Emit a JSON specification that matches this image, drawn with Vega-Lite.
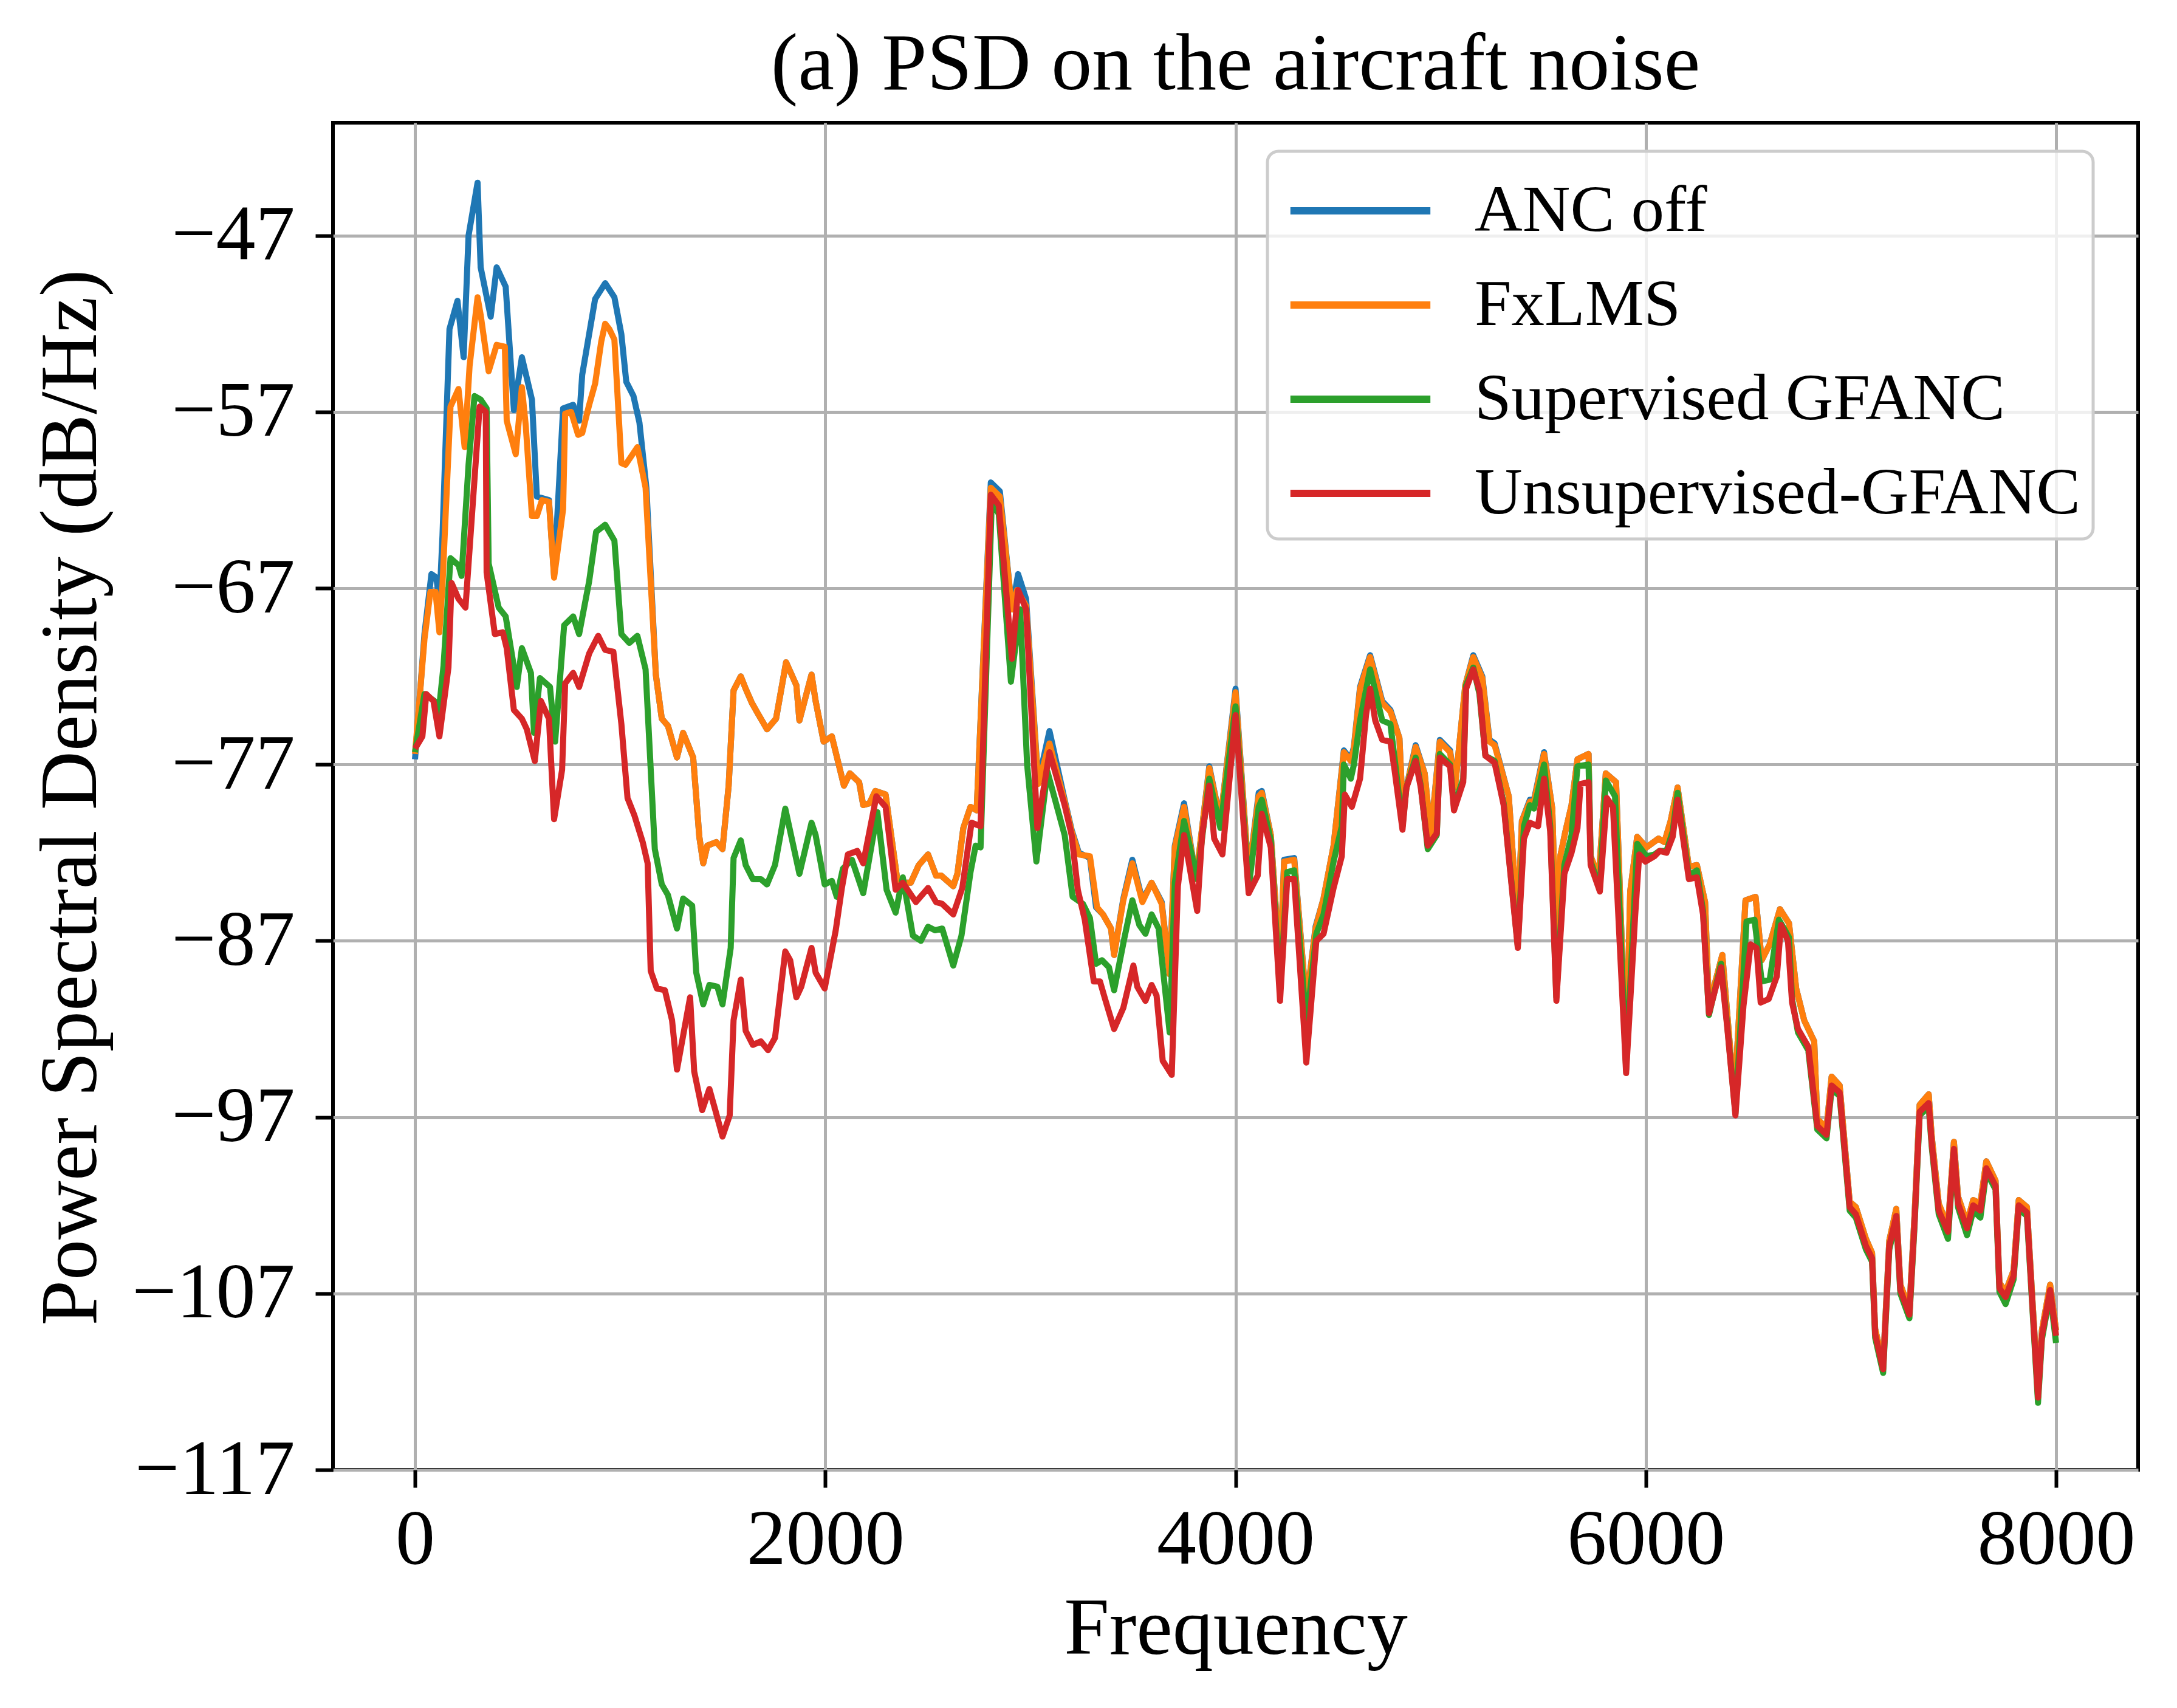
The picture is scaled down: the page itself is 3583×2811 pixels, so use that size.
{
  "$schema": "https://vega.github.io/schema/vega-lite/v6.json",
  "autosize": {"type": "none"},
  "padding": {"left": 548, "top": 202, "right": 64, "bottom": 392},
  "width": 2971,
  "height": 2217,
  "background": "white",
  "title": {
    "text": "(a) PSD on the aircraft noise",
    "font": "Liberation Serif",
    "fontSize": 134,
    "fontWeight": "normal",
    "color": "black",
    "anchor": "middle",
    "frame": "group",
    "baseline": "alphabetic",
    "offset": -79
  },
  "datasets": {
    "blue": [[0,-76.7],[46,-69.6],[80,-66.2],[104,-66.4],[119,-67.8],[134,-64.0],[168,-52.3],[207,-50.7],[237,-53.9],[261,-47.0],[305,-44.0],[320,-48.8],[369,-51.6],[398,-48.8],[442,-49.9],[482,-56.9],[521,-53.9],[570,-56.3],[594,-61.8],[653,-62.0],[678,-66.3],[722,-56.8],[771,-56.6],[800,-57.5],[815,-54.9],[878,-50.6],[927,-49.7],[972,-50.5],[1006,-52.6],[1030,-55.3],[1065,-56.1],[1094,-57.6],[1128,-61.3],[1174,-71.9],[1203,-74.4],[1233,-74.8],[1277,-76.6],[1307,-75.2],[1356,-76.6],[1386,-81.1],[1405,-82.6],[1425,-81.6],[1469,-81.4],[1499,-81.8],[1529,-78.2],[1553,-72.8],[1588,-72.0],[1612,-72.7],[1642,-73.5],[1671,-74.1],[1716,-75.0],[1760,-74.4],[1809,-71.2],[1859,-72.5],[1874,-74.5],[1933,-71.9],[1953,-73.4],[1992,-75.7],[2032,-75.4],[2091,-78.2],[2120,-77.5],[2165,-78.0],[2185,-79.3],[2215,-79.2],[2244,-78.5],[2294,-78.7],[2353,-83.7],[2417,-83.7],[2456,-82.7],[2501,-82.1],[2540,-83.3],[2565,-83.3],[2624,-83.9],[2644,-83.2],[2673,-80.6],[2708,-79.4],[2738,-79.6],[2807,-61.0],[2851,-61.5],[2910,-68.2],[2940,-66.2],[2979,-67.6],[3038,-78.0],[3093,-75.1],[3167,-79.0],[3201,-80.7],[3236,-82.0],[3290,-82.3],[3320,-85.1],[3354,-85.5],[3393,-86.3],[3408,-87.8],[3453,-84.6],[3497,-82.4],[3546,-84.7],[3591,-83.7],[3640,-84.8],[3679,-88.9],[3704,-81.6],[3749,-79.2],[3808,-83.5],[3833,-81.0],[3872,-77.1],[3926,-80.2],[4000,-72.7],[4064,-83.3],[4113,-78.6],[4128,-78.5],[4172,-81.0],[4217,-88.6],[4237,-82.4],[4286,-82.3],[4345,-90.6],[4390,-86.2],[4429,-84.6],[4478,-81.6],[4528,-76.2],[4562,-76.7],[4577,-76.0],[4607,-72.6],[4656,-70.8],[4715,-73.4],[4755,-73.9],[4799,-75.5],[4814,-79.3],[4878,-75.9],[4922,-77.5],[4952,-81.0],[4996,-75.6],[5046,-76.2],[5070,-78.3],[5120,-72.5],[5159,-70.8],[5203,-72.0],[5238,-75.6],[5263,-75.8],[5332,-78.8],[5376,-86.2],[5396,-80.2],[5435,-79.0],[5455,-79.0],[5504,-76.3],[5544,-79.5],[5568,-89.0],[5583,-82.2],[5608,-80.8],[5638,-79.3],[5667,-76.7],[5721,-76.4],[5731,-82.2],[5771,-83.4],[5805,-77.5],[5855,-78.0],[5904,-94.1],[5924,-84.2],[5958,-81.1],[6003,-81.7],[6062,-81.2],[6091,-81.4],[6121,-80.2],[6155,-78.3],[6210,-82.8],[6249,-82.7],[6289,-84.8],[6308,-90.7],[6373,-87.8],[6432,-96.0],[6486,-84.7],[6535,-84.5],[6565,-88.1],[6604,-87.2],[6654,-85.2],[6698,-86.0],[6733,-89.7],[6772,-91.5],[6821,-92.7],[6836,-97.1],[6881,-97.6],[6906,-94.7],[6945,-95.2],[6994,-101.8],[7024,-102.1],[7073,-103.9],[7103,-104.7],[7118,-109.0],[7157,-111.0],[7187,-104.0],[7221,-102.2],[7241,-106.5],[7285,-107.9],[7310,-102.6],[7335,-96.3],[7379,-95.7],[7394,-98.1],[7428,-101.9],[7473,-103.2],[7502,-98.4],[7522,-101.5],[7566,-103.0],[7596,-101.7],[7631,-101.9],[7660,-99.5],[7705,-100.6],[7724,-106.4],[7754,-106.9],[7793,-105.7],[7818,-101.7],[7858,-102.1],[7887,-107.8],[7912,-112.6],[7931,-109.1],[7971,-106.5],[8000,-109.1]],
    "orange": [[0,-76.4],[46,-69.9],[75,-67.2],[100,-67.2],[119,-69.5],[134,-66.8],[173,-56.7],[212,-55.7],[242,-59.0],[266,-54.4],[305,-50.5],[320,-51.5],[359,-54.7],[398,-53.2],[438,-53.3],[447,-57.5],[491,-59.4],[521,-55.6],[540,-57.8],[570,-62.9],[594,-62.9],[619,-62.0],[653,-62.1],[678,-66.4],[722,-62.5],[732,-57.1],[761,-57.0],[795,-58.3],[815,-58.2],[849,-56.6],[878,-55.4],[908,-53.0],[927,-52.0],[947,-52.3],[972,-52.9],[1006,-59.9],[1026,-60.0],[1084,-59.0],[1124,-61.3],[1174,-71.9],[1203,-74.4],[1233,-74.8],[1277,-76.6],[1307,-75.2],[1356,-76.6],[1386,-81.1],[1405,-82.6],[1425,-81.6],[1469,-81.4],[1499,-81.8],[1529,-78.2],[1553,-72.8],[1588,-72.0],[1612,-72.7],[1642,-73.5],[1671,-74.1],[1716,-75.0],[1760,-74.4],[1809,-71.2],[1859,-72.5],[1874,-74.5],[1933,-71.9],[1953,-73.4],[1992,-75.7],[2032,-75.4],[2091,-78.2],[2120,-77.5],[2165,-78.0],[2185,-79.3],[2215,-79.2],[2244,-78.5],[2294,-78.7],[2353,-83.7],[2417,-83.7],[2456,-82.7],[2501,-82.1],[2540,-83.3],[2565,-83.3],[2624,-83.9],[2644,-83.2],[2673,-80.6],[2708,-79.4],[2738,-79.6],[2807,-61.3],[2851,-61.8],[2910,-68.2],[2935,-67.1],[2979,-68.0],[3038,-78.1],[3093,-75.8],[3167,-79.1],[3201,-80.8],[3236,-82.1],[3290,-82.2],[3325,-85.1],[3354,-85.5],[3393,-86.3],[3408,-87.8],[3453,-84.7],[3497,-82.6],[3546,-84.8],[3591,-83.7],[3640,-84.9],[3679,-88.9],[3704,-81.7],[3749,-79.4],[3808,-83.5],[3833,-81.0],[3872,-77.2],[3926,-80.2],[4000,-72.9],[4064,-83.3],[4113,-78.8],[4128,-78.6],[4172,-81.0],[4217,-88.6],[4237,-82.5],[4286,-82.4],[4345,-90.6],[4390,-86.3],[4429,-84.6],[4478,-81.6],[4528,-76.3],[4562,-76.8],[4577,-76.1],[4607,-72.7],[4656,-70.9],[4715,-73.5],[4755,-74.0],[4799,-75.5],[4814,-79.3],[4878,-76.0],[4922,-77.5],[4952,-81.0],[4996,-75.7],[5046,-76.3],[5070,-78.3],[5120,-72.5],[5159,-70.9],[5203,-72.1],[5238,-75.7],[5263,-75.9],[5332,-78.8],[5376,-86.2],[5396,-80.2],[5435,-79.1],[5455,-79.1],[5504,-76.4],[5544,-79.5],[5568,-89.0],[5583,-82.2],[5608,-80.8],[5638,-79.3],[5667,-76.7],[5721,-76.4],[5731,-82.2],[5771,-83.4],[5805,-77.5],[5855,-78.0],[5904,-94.1],[5924,-84.2],[5958,-81.1],[6003,-81.7],[6062,-81.2],[6091,-81.4],[6121,-80.2],[6155,-78.3],[6210,-82.8],[6249,-82.7],[6289,-84.8],[6308,-90.7],[6373,-87.8],[6432,-96.0],[6486,-84.7],[6535,-84.5],[6565,-88.1],[6604,-87.2],[6654,-85.2],[6698,-86.0],[6733,-89.7],[6772,-91.5],[6821,-92.7],[6836,-97.1],[6881,-97.6],[6906,-94.7],[6945,-95.2],[6994,-101.8],[7024,-102.1],[7073,-103.9],[7103,-104.7],[7118,-109.0],[7157,-111.0],[7187,-104.0],[7221,-102.2],[7241,-106.5],[7285,-107.9],[7310,-102.6],[7335,-96.3],[7379,-95.7],[7394,-98.1],[7428,-101.9],[7473,-103.2],[7502,-98.4],[7522,-101.5],[7566,-103.0],[7596,-101.7],[7631,-101.9],[7660,-99.5],[7705,-100.6],[7724,-106.4],[7754,-106.9],[7793,-105.7],[7818,-101.7],[7858,-102.1],[7887,-107.8],[7912,-112.6],[7931,-109.1],[7971,-106.5],[8000,-109.1]],
    "green": [[0,-76.3],[46,-73.0],[95,-73.4],[114,-74.2],[139,-71.4],[173,-65.3],[212,-65.7],[227,-66.3],[261,-60.0],[290,-56.1],[320,-56.3],[349,-56.8],[359,-65.6],[408,-68.1],[442,-68.6],[477,-71.1],[496,-72.6],[521,-70.4],[565,-71.8],[580,-75.2],[609,-72.1],[658,-72.6],[683,-75.7],[727,-69.1],[771,-68.6],[800,-69.6],[849,-66.6],[883,-63.8],[927,-63.4],[972,-64.3],[1006,-69.6],[1045,-70.1],[1084,-69.7],[1124,-71.6],[1169,-81.8],[1203,-83.8],[1233,-84.4],[1277,-86.3],[1307,-84.6],[1351,-85.0],[1371,-88.8],[1405,-90.6],[1435,-89.5],[1474,-89.6],[1499,-90.6],[1539,-87.4],[1553,-82.3],[1588,-81.3],[1612,-82.7],[1647,-83.5],[1686,-83.5],[1716,-83.8],[1755,-82.7],[1805,-79.5],[1874,-83.2],[1933,-80.3],[1953,-81.0],[1997,-83.8],[2032,-83.6],[2056,-84.5],[2086,-82.9],[2130,-82.4],[2185,-84.3],[2254,-79.7],[2299,-84.1],[2343,-85.4],[2378,-83.4],[2427,-86.7],[2466,-87.0],[2501,-86.2],[2535,-86.4],[2570,-86.3],[2624,-88.4],[2664,-86.7],[2708,-83.1],[2733,-81.6],[2757,-81.7],[2812,-62.0],[2846,-62.8],[2905,-72.3],[2950,-68.2],[2984,-77.0],[3029,-82.5],[3083,-77.4],[3167,-81.0],[3206,-84.5],[3256,-84.9],[3290,-85.7],[3320,-88.3],[3349,-88.1],[3383,-88.5],[3408,-89.8],[3457,-86.9],[3497,-84.7],[3531,-86.1],[3561,-86.6],[3591,-85.5],[3625,-86.3],[3679,-92.2],[3704,-83.7],[3749,-80.2],[3813,-83.5],[3872,-77.8],[3926,-80.6],[4000,-73.7],[4064,-84.0],[4113,-79.4],[4128,-79.0],[4172,-81.3],[4217,-89.9],[4252,-83.1],[4286,-83.0],[4345,-91.8],[4394,-86.6],[4429,-85.5],[4478,-82.5],[4518,-80.5],[4528,-77.0],[4562,-77.8],[4577,-77.0],[4607,-74.5],[4656,-71.6],[4715,-74.5],[4755,-74.7],[4774,-76.5],[4814,-80.5],[4833,-78.3],[4878,-76.6],[4903,-78.2],[4937,-81.8],[4981,-81.0],[4996,-76.4],[5046,-77.0],[5065,-79.4],[5110,-77.8],[5124,-72.5],[5159,-71.5],[5189,-73.0],[5218,-76.5],[5263,-76.8],[5307,-79.2],[5376,-87.3],[5406,-80.5],[5435,-79.3],[5455,-79.5],[5504,-77.0],[5534,-80.5],[5564,-90.2],[5603,-82.7],[5638,-81.0],[5667,-77.1],[5721,-77.0],[5731,-82.5],[5776,-84.0],[5805,-77.9],[5850,-78.8],[5904,-94.3],[5958,-81.5],[6003,-82.2],[6042,-82.1],[6067,-81.9],[6101,-81.9],[6131,-80.8],[6155,-78.6],[6210,-83.3],[6249,-83.0],[6279,-85.3],[6308,-91.2],[6367,-88.3],[6397,-91.8],[6437,-96.8],[6491,-85.9],[6530,-85.8],[6565,-89.3],[6604,-89.2],[6649,-85.8],[6698,-86.8],[6713,-90.3],[6742,-92.2],[6792,-93.2],[6836,-97.7],[6881,-98.2],[6906,-95.4],[6945,-95.8],[6994,-102.3],[7024,-102.7],[7073,-104.5],[7103,-105.2],[7118,-109.5],[7157,-111.5],[7187,-104.5],[7221,-102.8],[7241,-107.0],[7285,-108.4],[7310,-103.2],[7335,-96.9],[7379,-96.4],[7394,-98.7],[7428,-102.5],[7473,-103.9],[7502,-99.0],[7522,-102.1],[7566,-103.7],[7596,-102.3],[7631,-102.7],[7660,-100.1],[7705,-101.1],[7724,-106.9],[7754,-107.6],[7793,-106.2],[7818,-102.2],[7858,-102.6],[7887,-108.3],[7912,-113.2],[7931,-109.6],[7971,-107.0],[8000,-109.8]],
    "red": [[0,-76.1],[36,-75.4],[55,-73.0],[90,-73.4],[119,-75.4],[163,-71.5],[178,-66.7],[212,-67.6],[246,-68.1],[281,-62.3],[315,-56.7],[345,-57.0],[349,-66.1],[389,-69.6],[428,-69.5],[447,-70.4],[482,-73.9],[521,-74.4],[545,-75.0],[584,-76.8],[614,-73.4],[653,-74.4],[678,-80.1],[717,-77.3],[732,-72.4],[771,-71.8],[800,-72.6],[849,-70.7],[893,-69.7],[927,-70.5],[967,-70.6],[1006,-74.7],[1036,-78.9],[1070,-79.9],[1110,-81.4],[1134,-82.6],[1149,-88.7],[1179,-89.7],[1218,-89.8],[1253,-91.5],[1277,-94.3],[1341,-90.2],[1361,-94.4],[1400,-96.6],[1435,-95.4],[1464,-96.6],[1499,-98.1],[1534,-96.9],[1553,-91.5],[1588,-89.2],[1612,-92.1],[1647,-92.9],[1686,-92.7],[1721,-93.2],[1755,-92.5],[1805,-87.6],[1829,-88.1],[1859,-90.2],[1883,-89.6],[1933,-87.4],[1953,-88.8],[1997,-89.7],[2051,-86.4],[2081,-84.0],[2110,-82.1],[2156,-81.9],[2185,-82.6],[2249,-78.8],[2294,-79.4],[2343,-84.1],[2378,-83.7],[2442,-84.8],[2501,-84.0],[2540,-84.8],[2570,-84.9],[2624,-85.5],[2668,-84.0],[2713,-80.3],[2757,-80.5],[2807,-61.7],[2846,-62.3],[2910,-71.0],[2940,-67.1],[2979,-68.2],[3034,-80.6],[3093,-76.3],[3167,-79.3],[3201,-81.0],[3231,-84.1],[3265,-85.8],[3309,-89.3],[3339,-89.3],[3364,-90.3],[3408,-92.0],[3453,-90.8],[3502,-88.4],[3521,-89.6],[3561,-90.4],[3591,-89.5],[3615,-90.1],[3645,-93.8],[3689,-94.6],[3719,-83.9],[3749,-81.0],[3813,-85.3],[3837,-81.0],[3872,-78.2],[3896,-81.2],[3936,-82.1],[4000,-74.2],[4064,-84.3],[4108,-83.3],[4128,-79.8],[4172,-81.7],[4217,-90.4],[4252,-83.5],[4286,-83.5],[4345,-93.9],[4394,-87.0],[4429,-86.6],[4478,-84.0],[4518,-82.2],[4533,-78.7],[4567,-79.4],[4607,-77.8],[4636,-74.2],[4656,-72.7],[4681,-74.5],[4715,-75.6],[4755,-75.7],[4774,-77.2],[4814,-80.7],[4833,-78.3],[4878,-76.8],[4903,-78.3],[4937,-81.6],[4981,-80.9],[4996,-76.6],[5046,-77.1],[5065,-79.6],[5110,-78.0],[5124,-72.7],[5159,-71.6],[5189,-72.8],[5218,-76.5],[5263,-76.9],[5307,-79.3],[5376,-87.4],[5406,-81.2],[5435,-80.3],[5475,-80.5],[5504,-77.8],[5534,-80.8],[5564,-90.4],[5603,-83.2],[5638,-82.0],[5667,-80.6],[5682,-78.1],[5721,-78.0],[5731,-82.7],[5776,-84.2],[5810,-78.9],[5840,-79.4],[5904,-94.5],[5948,-85.6],[5968,-82.1],[5998,-82.5],[6042,-82.2],[6067,-81.9],[6101,-82.0],[6131,-81.1],[6155,-79.0],[6210,-83.5],[6249,-83.4],[6279,-85.5],[6308,-91.1],[6367,-88.5],[6397,-91.9],[6437,-96.9],[6476,-90.7],[6511,-87.2],[6540,-87.4],[6560,-90.5],[6599,-90.3],[6639,-89.0],[6659,-86.1],[6693,-87.0],[6713,-90.5],[6742,-92.0],[6792,-93.0],[6836,-97.5],[6881,-98.0],[6906,-95.2],[6945,-95.6],[6994,-102.1],[7024,-102.5],[7073,-104.3],[7103,-105.0],[7118,-109.3],[7157,-111.3],[7187,-104.3],[7221,-102.6],[7241,-106.8],[7285,-108.2],[7310,-103.0],[7335,-96.7],[7379,-96.2],[7394,-98.5],[7428,-102.3],[7473,-103.5],[7502,-98.8],[7522,-101.9],[7566,-103.3],[7596,-102.0],[7631,-102.3],[7660,-99.9],[7705,-100.9],[7724,-106.7],[7754,-107.2],[7793,-106.0],[7818,-102.0],[7858,-102.4],[7887,-108.1],[7912,-112.9],[7931,-109.4],[7971,-106.8],[8000,-109.4]]
  },
  "layer": [
    {
      "data": {"name": "blue"},
      "transform": [{"calculate": "'ANC off'", "as": "series"}, {"calculate": "datum[0]", "as": "freq"}, {"calculate": "datum[1]", "as": "psd"}],
      "mark": {"type": "line", "strokeWidth": 10, "strokeJoin": "round", "clip": true},
      "encoding": {
        "x": {"field": "freq", "type": "quantitative"},
        "y": {"field": "psd", "type": "quantitative"},
        "color": {"field": "series", "type": "nominal"}
      }
    },
    {
      "data": {"name": "orange"},
      "transform": [{"calculate": "'FxLMS'", "as": "series"}, {"calculate": "datum[0]", "as": "freq"}, {"calculate": "datum[1]", "as": "psd"}],
      "mark": {"type": "line", "strokeWidth": 10, "strokeJoin": "round", "clip": true},
      "encoding": {
        "x": {"field": "freq", "type": "quantitative"},
        "y": {"field": "psd", "type": "quantitative"},
        "color": {"field": "series", "type": "nominal"}
      }
    },
    {
      "data": {"name": "green"},
      "transform": [{"calculate": "'Supervised GFANC'", "as": "series"}, {"calculate": "datum[0]", "as": "freq"}, {"calculate": "datum[1]", "as": "psd"}],
      "mark": {"type": "line", "strokeWidth": 10, "strokeJoin": "round", "clip": true},
      "encoding": {
        "x": {"field": "freq", "type": "quantitative"},
        "y": {"field": "psd", "type": "quantitative"},
        "color": {"field": "series", "type": "nominal"}
      }
    },
    {
      "data": {"name": "red"},
      "transform": [{"calculate": "'Unsupervised-GFANC'", "as": "series"}, {"calculate": "datum[0]", "as": "freq"}, {"calculate": "datum[1]", "as": "psd"}],
      "mark": {"type": "line", "strokeWidth": 10, "strokeJoin": "round", "clip": true},
      "encoding": {
        "x": {
          "field": "freq",
          "type": "quantitative",
          "title": "Frequency",
          "scale": {"domain": [-400, 8400], "nice": false, "zero": false},
          "axis": {"values": [0, 2000, 4000, 6000, 8000], "format": "d", "labelPadding": 22, "titlePadding": 16}
        },
        "y": {
          "field": "psd",
          "type": "quantitative",
          "title": "Power Spectral Density (dB/Hz)",
          "scale": {"domain": [-117, -40.6], "nice": false, "zero": false},
          "axis": {
            "values": [-47, -57, -67, -77, -87, -97, -107, -117],
            "labelPadding": 34,
            "titleX": -363,
            "titleY": 1110,
            "titleAngle": 270,
            "titleBaseline": "bottom",
            "titleAlign": "center"
          }
        },
        "color": {
          "field": "series",
          "type": "nominal",
          "scale": {
            "domain": ["ANC off", "FxLMS", "Supervised GFANC", "Unsupervised-GFANC"],
            "range": ["#1f77b4", "#ff7f0e", "#2ca02c", "#d62728"]
          },
          "legend": {
            "title": null,
            "orient": "none",
            "legendX": 1538,
            "legendY": 47,
            "symbolType": "M-1.6,0H1.6",
            "symbolSize": 20736,
            "symbolStrokeWidth": 12,
            "symbolOffset": 55,
            "labelOffset": 110,
            "rowPadding": 22,
            "padding": 20
          }
        }
      }
    }
  ],
  "config": {
    "view": {"stroke": "black", "strokeWidth": 6},
    "axis": {
      "domain": false,
      "grid": true,
      "gridColor": "#b0b0b0",
      "gridWidth": 5,
      "ticks": true,
      "tickColor": "black",
      "tickWidth": 6,
      "tickSize": 29,
      "labelFont": "Liberation Serif",
      "labelFontSize": 130,
      "labelColor": "black",
      "labelLimit": 3000,
      "titleFont": "Liberation Serif",
      "titleFontSize": 134,
      "titleFontWeight": "normal",
      "titleColor": "black",
      "titleLimit": 5000,
      "labelFlush": false,
      "labelOverlap": false
    },
    "legend": {
      "labelFont": "Liberation Serif",
      "labelFontSize": 109,
      "labelColor": "black",
      "labelLimit": 3000,
      "fillColor": "rgba(255,255,255,0.8)",
      "strokeColor": "#cccccc",
      "strokeWidth": 5,
      "cornerRadius": 18
    }
  }
}
